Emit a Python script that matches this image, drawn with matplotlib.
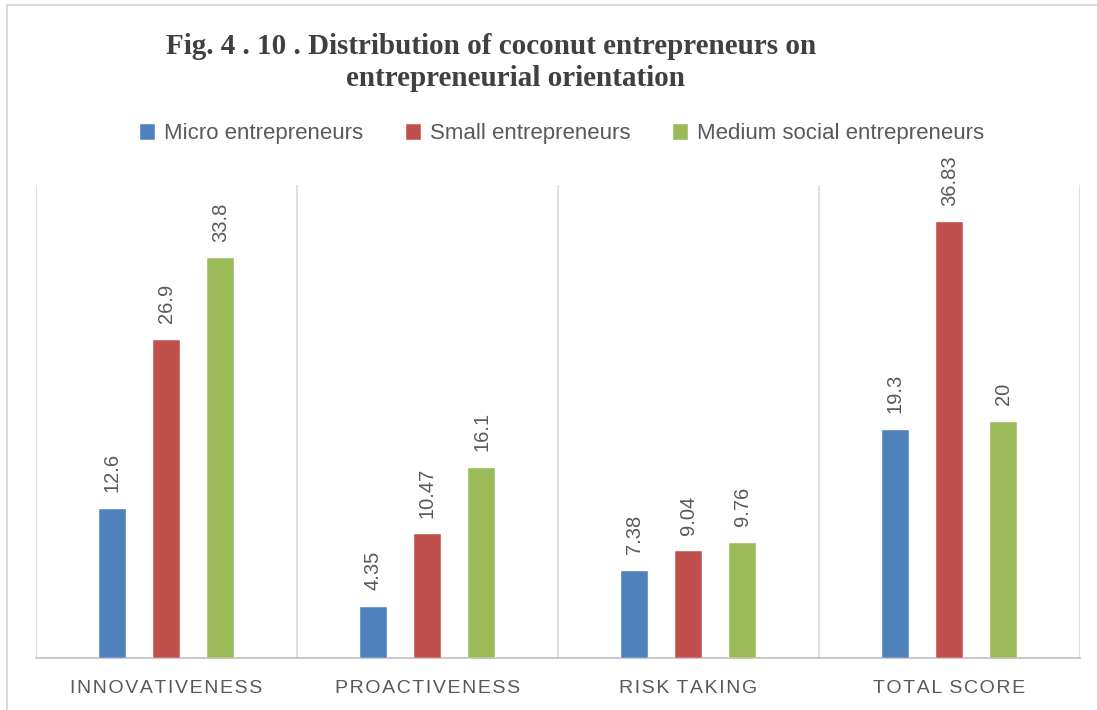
import numpy as np
import matplotlib.pyplot as plt
from matplotlib.lines import Line2D

# Mean scores by entrepreneur type
categories = ['INNOVATIVENESS', 'PROACTIVENESS', 'RISK TAKING', 'TOTAL SCORE']
series_names = ['Micro entrepreneurs', 'Small entrepreneurs', 'Medium social entrepreneurs']
micro = [12.6, 4.35, 7.38, 19.3]
small = [26.9, 10.47, 9.04, 36.83]
medium = [33.8, 16.1, 9.76, 20]
value_labels = [['12.6', '4.35', '7.38', '19.3'],
                ['26.9', '10.47', '9.04', '36.83'],
                ['33.8', '16.1', '9.76', '20']]
colors = ['#4f81bd', '#c0504d', '#9bbb59']

W, H = 1097, 710
fig = plt.figure(figsize=(W / 100, H / 100), dpi=100)

# outer frame of the chart box
fig.add_artist(Line2D([7 / W, 7 / W], [0, 1 - 5 / H], color='#d9d9d9', lw=1.5))
fig.add_artist(Line2D([7 / W, 1], [1 - 5 / H, 1 - 5 / H], color='#d9d9d9', lw=1.5))

ax = fig.add_axes([36 / W, 52 / H, (1080 - 36) / W, (658 - 185) / H])
ax.set_xlim(0, 4)
ax.set_ylim(0, 40)

fonts = ['Liberation Sans', 'DejaVu Sans']
x = np.arange(len(categories)) + 0.5
offset = 0.207
width = 0.107
grey = '#595959'
for i, vals in enumerate([micro, small, medium]):
    pos = x + (i - 1) * offset
    ax.bar(pos, vals, width=width, color=colors[i], edgecolor='white', linewidth=0.3,
           label=series_names[i], zorder=3)
    for px, v, lab in zip(pos, vals, value_labels[i]):
        ax.text(px, v + 1.4, lab, rotation=90, ha='center', va='bottom',
                fontsize=14.5, color=grey, family=fonts)

# category separators
for xv in range(5):
    ax.axvline(xv, color='#d9d9d9', lw=1.2, zorder=1)

for s in ['top', 'left', 'right']:
    ax.spines[s].set_visible(False)
ax.spines['bottom'].set_color('#bfbfbf')
ax.spines['bottom'].set_linewidth(1.2)
ax.set_yticks([])
ax.set_xticks(x)
# letter-spaced category names
spaced = ['\u200a'.join(c.replace(' ', '\u2009')) for c in categories]
ax.set_xticklabels(spaced, fontsize=14, color=grey, family=fonts)
ax.tick_params(axis='x', length=0, pad=16)

fig.text(491 / W, 1 - 46 / H, 'Fig. 4 . 10 . Distribution of coconut entrepreneurs on',
         ha='center', va='center', fontsize=21, fontweight='bold', color='#404040',
         family='Liberation Serif')
fig.text(515 / W, 1 - 79 / H, 'entrepreneurial orientation',
         ha='center', va='center', fontsize=21, fontweight='bold', color='#404040',
         family='Liberation Serif')

leg = fig.legend(loc='center', bbox_to_anchor=(562 / W, 1 - 134 / H), ncol=3,
                 frameon=False, handlelength=0.7, handleheight=0.7,
                 handletextpad=0.4, columnspacing=1.9,
                 prop={'family': 'Liberation Sans', 'size': 16})
for t in leg.get_texts():
    t.set_color(grey)

fig.savefig('out.png', dpi=100)
